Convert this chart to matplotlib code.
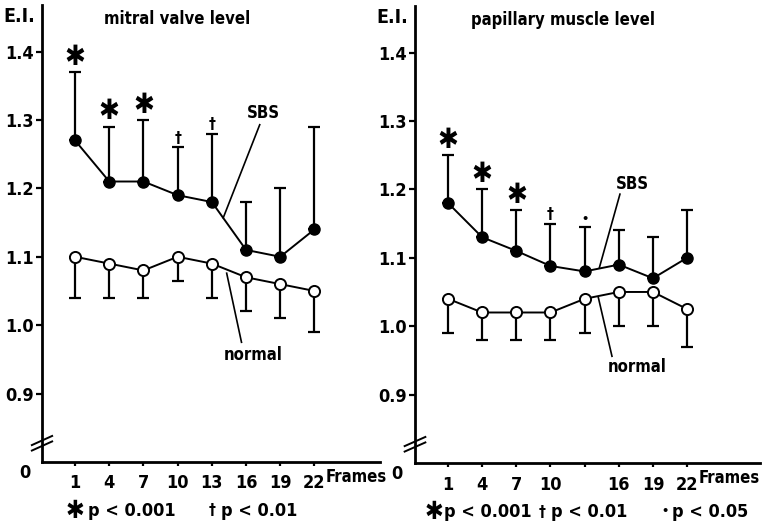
import numpy as np
import matplotlib.pyplot as plt

plt.rcParams['font.family'] = ['DejaVu Sans']
plt.rcParams['font.stretch'] = 'condensed'
plt.rcParams['font.weight'] = 'bold'

frames = np.array([1, 4, 7, 10, 13, 16, 19, 22])

# mitral valve level
mv_sbs = [1.27, 1.21, 1.21, 1.19, 1.18, 1.11, 1.10, 1.14]
mv_sbs_up = [1.37, 1.29, 1.30, 1.26, 1.28, 1.18, 1.20, 1.29]
mv_norm = [1.10, 1.09, 1.08, 1.10, 1.09, 1.07, 1.06, 1.05]
mv_norm_lo = [1.04, 1.04, 1.04, 1.065, 1.04, 1.02, 1.01, 0.99]
mv_sig = ['*', '*', '*', '+', '+', '', '', '']

# papillary muscle level
pm_sbs = [1.18, 1.13, 1.11, 1.088, 1.08, 1.09, 1.07, 1.10]
pm_sbs_up = [1.25, 1.20, 1.17, 1.15, 1.145, 1.14, 1.13, 1.17]
pm_norm = [1.04, 1.02, 1.02, 1.02, 1.04, 1.05, 1.05, 1.025]
pm_norm_lo = [0.99, 0.98, 0.98, 0.98, 0.99, 1.00, 1.00, 0.97]
pm_sig = ['*', '*', '*', '+', '.', '', '', '']

yticks = [0.9, 1.0, 1.1, 1.2, 1.3, 1.4]

sym = {'*': '\u2731', '+': '\u2020', '.': '\u2022'}
symsize = {'*': 20, '+': 11, '.': 9}


def panel(ax, sbs, sbs_up, norm, norm_lo, sig, title, title_x, xlabels, sbs_lab, norm_lab, xmax):
    sbs = np.array(sbs)
    norm = np.array(norm)
    ax.errorbar(frames, sbs, yerr=[np.zeros(8), np.array(sbs_up) - sbs], fmt='none',
                ecolor='black', elinewidth=1.6, capsize=4, capthick=1.6)
    ax.errorbar(frames, norm, yerr=[norm - np.array(norm_lo), np.zeros(8)], fmt='none',
                ecolor='black', elinewidth=1.6, capsize=4, capthick=1.6)
    ax.plot(frames, sbs, '-o', color='black', lw=1.4, ms=8, mfc='black', mec='black', zorder=3)
    ax.plot(frames, norm, '-o', color='black', lw=1.4, ms=8, mfc='white', mec='black',
            mew=1.4, zorder=3)
    for f, u, s in zip(frames, sbs_up, sig):
        if s:
            ax.text(f, u + 0.002, sym[s], ha='center', va='bottom', fontsize=symsize[s],
                    fontweight='bold')

    # labels with leader lines
    (lx, ly), (x0, y0), (x1, y1) = sbs_lab
    ax.text(lx, ly, 'SBS', ha='center', va='center', fontsize=12)
    ax.plot([x0, x1], [y0, y1], color='black', lw=1.2)
    (lx, ly), (x0, y0), (x1, y1) = norm_lab
    ax.text(lx, ly, 'normal', ha='center', va='center', fontsize=12)
    ax.plot([x0, x1], [y0, y1], color='black', lw=1.2)

    ax.set_xlim(-1.9, xmax)
    ax.set_ylim(0.8, 1.468)
    ax.set_yticks(yticks)
    ax.set_yticklabels(['%.1f' % v for v in yticks], fontsize=13, fontweight='bold')
    ax.set_xticks(frames)
    ax.set_xticklabels(xlabels, fontsize=13, fontweight='bold')
    ax.tick_params(axis='both', direction='out', length=4, width=1.6, pad=2, color='black')
    ax.tick_params(axis='x', length=3, pad=6)
    for s in ['top', 'right']:
        ax.spines[s].set_visible(False)
    for s in ['left', 'bottom']:
        ax.spines[s].set_linewidth(2)
    ax.text(-0.02, 0.995, 'E.I.', transform=ax.transAxes, ha='right', va='top', fontsize=14)
    ax.text(title_x, 0.99, title, transform=ax.transAxes, ha='center', va='top', fontsize=12)
    ax.text(-0.035, -0.005, '0', transform=ax.transAxes, ha='right', va='top', fontsize=13)
    ax.text(23.0, 0.791, 'Frames', ha='left', va='top', fontsize=12)
    # axis break marks
    for dy in (0.0, 0.012):
        ax.plot([-0.03, 0.03], [0.025 + dy, 0.045 + dy], transform=ax.transAxes,
                color='black', lw=1.4, clip_on=False)


fig = plt.figure(figsize=(7.62, 5.28), dpi=100)
ax1 = fig.add_axes([42 / 762, 66 / 528, 338 / 762, 457 / 528])
ax2 = fig.add_axes([415 / 762, 65 / 528, 345 / 762, 457 / 528])

panel(ax1, mv_sbs, mv_sbs_up, mv_norm, mv_norm_lo, mv_sig, 'mitral valve level', 0.40,
      [str(f) for f in frames],
      ((17.5, 1.31), (17.2, 1.293), (14.0, 1.157)),
      ((16.6, 0.956), (14.3, 1.076), (15.6, 0.975)), 27.75)
panel(ax2, pm_sbs, pm_sbs_up, pm_norm, pm_norm_lo, pm_sig, 'papillary muscle level', 0.43,
      ['1', '4', '7', '10', '', '16', '19', '22'],
      ((17.2, 1.208), (16.1, 1.193), (14.3, 1.086)),
      ((17.6, 0.94), (14.2, 1.042), (15.4, 0.956)), 28.4)

# significance legends
ly1 = 1 - 511 / 528
fig.text(66 / 762, ly1, '\u2731', fontsize=18, va='center')
fig.text(88 / 762, ly1, 'p < 0.001', fontsize=13, va='center')
fig.text(209 / 762, ly1, '\u2020', fontsize=11, va='center')
fig.text(221 / 762, ly1, 'p < 0.01', fontsize=13, va='center')
ly2 = 1 - 512 / 528
fig.text(425 / 762, ly2, '\u2731', fontsize=18, va='center')
fig.text(444 / 762, ly2, 'p < 0.001', fontsize=13, va='center')
fig.text(539 / 762, ly2, '\u2020', fontsize=11, va='center')
fig.text(551 / 762, ly2, 'p < 0.01', fontsize=13, va='center')
fig.text(661 / 762, ly2, '\u2022', fontsize=9, va='center')
fig.text(672 / 762, ly2, 'p < 0.05', fontsize=13, va='center')

fig.savefig('out.png', dpi=100)
